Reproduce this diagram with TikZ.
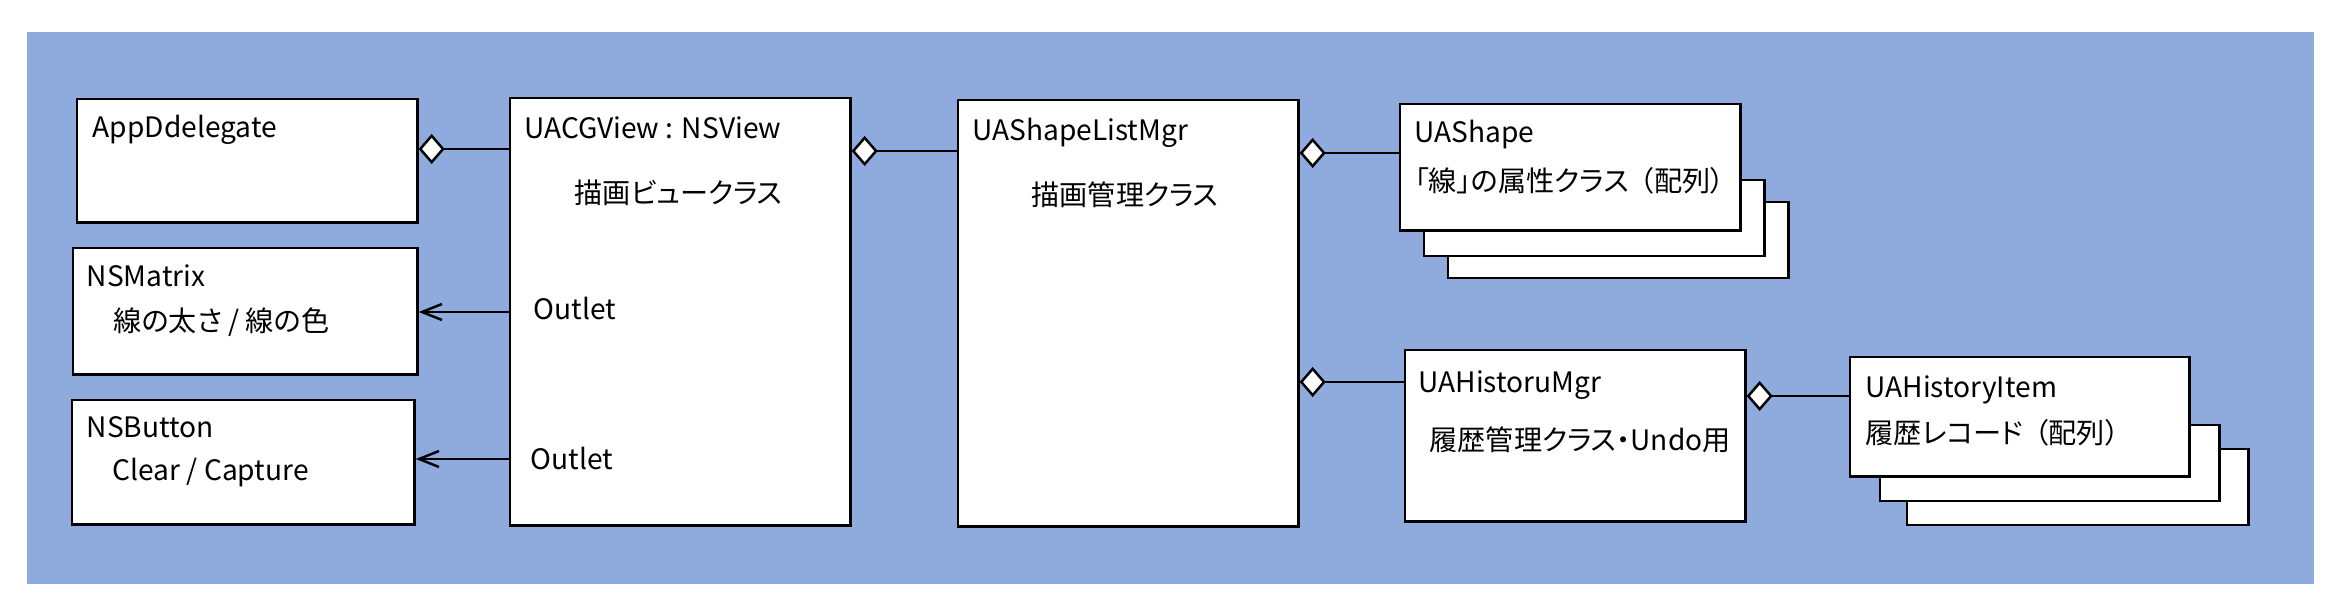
\documentclass[tikz,border=0pt]{standalone}
\usepackage{fontspec}
\setmainfont{Noto Sans CJK JP}[RawFeature=+palt]
\usepackage{xcolor}
\usepackage{tikz}
\usetikzlibrary{arrows.meta}

\definecolor{bgblue}{RGB}{143,170,220}

\begin{document}
\begin{tikzpicture}[x=0.01cm,y=-0.01cm,
    box/.style={draw,fill=white,line width=0.7pt,inner sep=0pt,anchor=north west},
    lbl/.style={inner sep=0pt,anchor=base west,font=\fontsize{8}{9}\selectfont},
    note/.style={inner sep=0pt,anchor=west,font=\fontsize{8}{9}\selectfont},
    agg/.style={{Diamond[fill=white,length=0.26cm,width=0.3cm]}-,line width=0.7pt},
    ref/.style={{Straight Barb[length=0.2cm,width=0.16cm]}-,line width=0.7pt}]
    \useasboundingbox (0,0) rectangle (2341,613);
    \fill[bgblue] (27,32) rectangle (2314,584);
    \node[box,minimum width=3.4cm,minimum height=1.23cm] (app) at (76,98) {};
    \node[box,minimum width=3.44cm,minimum height=1.26cm] (matrix) at (72,247) {};
    \node[box,minimum width=3.42cm,minimum height=1.24cm] (button) at (71,399) {};
    \node[box,minimum width=3.4cm,minimum height=4.27cm] (view) at (509,97) {};
    \node[box,minimum width=3.4cm,minimum height=4.26cm] (list) at (957,99) {};
    \node[box,minimum width=3.4cm,minimum height=0.76cm] (shape3) at (1447,201) {};
    \node[box,minimum width=3.4cm,minimum height=0.76cm] (shape2) at (1423,179) {};
    \node[box,minimum width=3.4cm,minimum height=1.26cm] (shape) at (1399,103) {};
    \node[box,minimum width=3.4cm,minimum height=1.71cm] (hist) at (1404,349) {};
    \node[box,minimum width=3.41cm,minimum height=0.76cm] (item3) at (1906,448) {};
    \node[box,minimum width=3.39cm,minimum height=0.76cm] (item2) at (1879,424) {};
    \node[box,minimum width=3.39cm,minimum height=1.19cm] (item) at (1849,356) {};
    \draw[agg] (app.east |- 0,149) -- (view.west |- 0,149);
    \draw[agg] (view.east |- 0,151) -- (list.west |- 0,151);
    \draw[agg] (list.east |- 0,153) -- (shape.west |- 0,153);
    \draw[agg] (list.east |- 0,382) -- (hist.west |- 0,382);
    \draw[agg] (hist.east |- 0,396) -- (item.west |- 0,396);
    \draw[ref] (matrix.east |- 0,312) -- (view.west |- 0,312);
    \draw[ref] (button.east |- 0,459) -- (view.west |- 0,459);
    \node[lbl] (appname) at (92,138) {AppDdelegate};
    \node[lbl] (viewname) at (524,139) {UACGView : NSView};
    \node[note] (viewnote) at (574,193) {描画ビュークラス};
    \node[lbl] (outletA) at (533,320) {Outlet};
    \node[lbl] (outletB) at (530,470) {Outlet};
    \node[lbl] (matrixname) at (86,287) {NSMatrix};
    \node[note] (matrixnote) at (113,322) {線の太さ / 線の色};
    \node[lbl] (buttonname) at (86,438) {NSButton};
    \node[lbl] (buttonnote) at (112,481) {Clear / Capture};
    \node[lbl] (listname) at (972,141) {UAShapeListMgr};
    \node[note] (listnote) at (1031,195) {描画管理クラス};
    \node[lbl] (shapename) at (1414,143) {UAShape};
    \node[note] (shapenote) at (1414,181) {「線」の属性クラス\hspace{0.4em}（配列）};
    \node[lbl] (histname) at (1418,393) {UAHistoruMgr};
    \node[note] (histnote) at (1429,440) {履歴管理クラス・Undo用};
    \node[lbl] (itemname) at (1865,398) {UAHistoryItem};
    \node[note] (itemnote) at (1865,433) {履歴レコード\hspace{0.4em}（配列）};
\end{tikzpicture}
\end{document}
